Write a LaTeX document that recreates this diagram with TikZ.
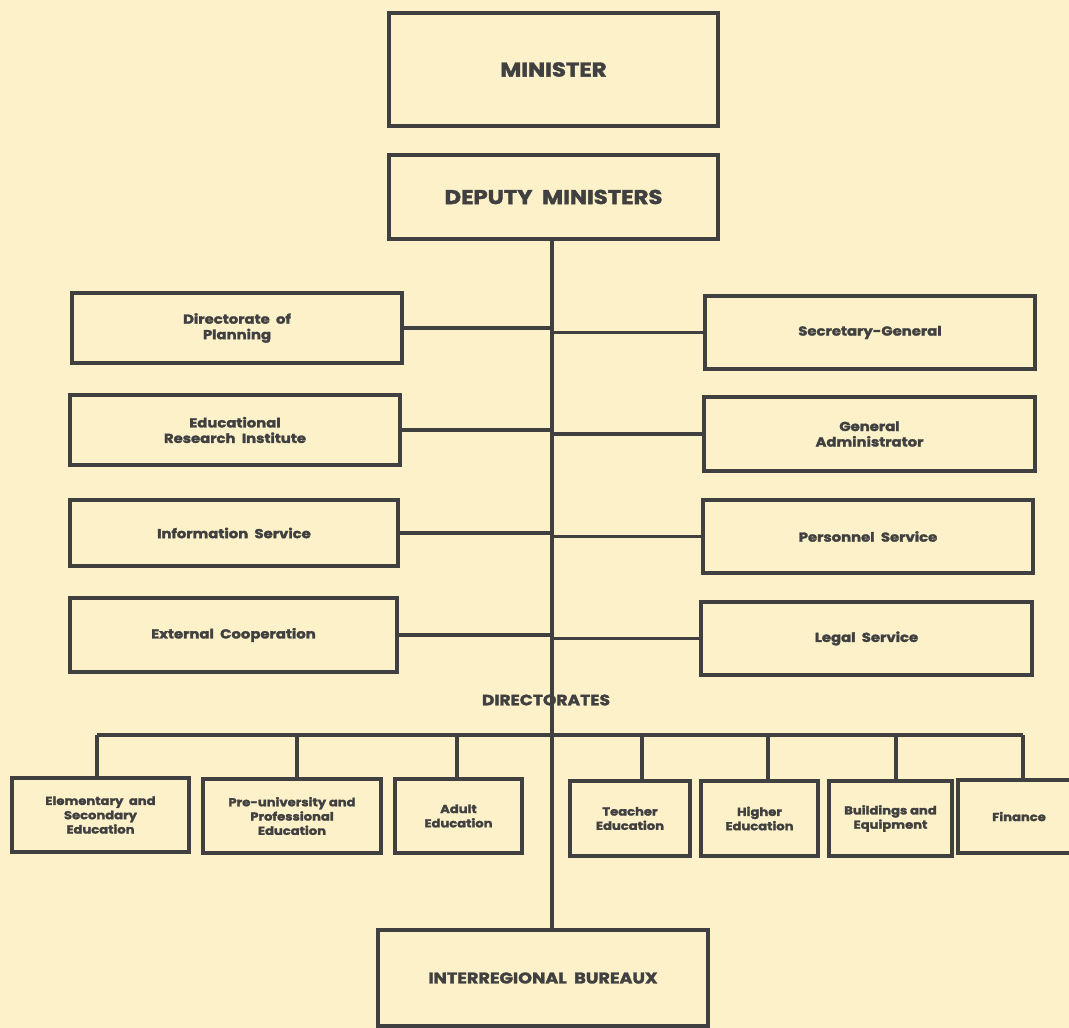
\documentclass[tikz,border=0pt]{standalone}
\usepackage{fontspec}
\setmainfont{Poppins}[FakeStretch=1.14,BoldFeatures={FakeBold=2}]
\definecolor{paper}{HTML}{FCF1C9}
\definecolor{ink}{HTML}{404040}
\begin{document}
\begin{tikzpicture}[x=1pt,y=-1pt,
  box/.style={draw=ink,line width=3.2pt,rectangle,inner sep=0pt,align=center,text=ink,font=\bfseries\fontsize{13}{15.5}\selectfont},
  bigbox/.style={box,font=\bfseries\fontsize{20}{24}\selectfont},
  smallbox/.style={box,font=\bfseries\fontsize{11.5}{14.3}\selectfont},
  wire/.style={draw=ink,line width=3.2pt},
  lbl/.style={text=ink,font=\bfseries\fontsize{15}{18}\selectfont}]
\fill[paper] (0,0) rectangle (1069,1028);
\useasboundingbox (0,0) rectangle (1069,1028);

% top
\node[bigbox,minimum width=329,minimum height=113] (min) at (553.5,69.5) {MINISTER};
\node[bigbox,minimum width=329,minimum height=84] (dep) at (553.5,197) {DEPUTY\ \ MINISTERS};

% left column
\node[box,minimum width=330,minimum height=70] (plan) at (237,328) {Directorate\ \ of\\Planning};
\node[box,minimum width=330,minimum height=70] (eri) at (235,430) {Educational\\Research\ \ Institute};
\node[box,minimum width=328,minimum height=66] (info) at (234,533) {Information\ \ Service};
\node[box,minimum width=327,minimum height=74] (ext) at (233.5,635) {External\ \ Cooperation};

% right column
\node[box,minimum width=330,minimum height=73] (sec) at (870,332.5) {Secretary-General};
\node[box,minimum width=331,minimum height=74] (gen) at (869.5,434) {General\\Administrator};
\node[box,minimum width=330,minimum height=73] (pers) at (868,536.5) {Personnel\ \ Service};
\node[box,minimum width=331,minimum height=73] (legal) at (866.5,638.5) {Legal\ \ Service};

% directorates
\node[smallbox,minimum width=177,minimum height=74] (elem) at (100.5,815) {Elementary\ \ and\\Secondary\\Education};
\node[smallbox,minimum width=178,minimum height=74] (pre) at (292,816) {Pre-university and\\Professional\\Education};
\node[smallbox,minimum width=127,minimum height=74] (adult) at (458.5,816) {Adult\\Education};
\node[smallbox,minimum width=120,minimum height=75] (teach) at (630,818.5) {Teacher\\Education};
\node[smallbox,minimum width=117,minimum height=75] (higher) at (759.5,818.5) {Higher\\Education};
\node[smallbox,minimum width=123,minimum height=75] (build) at (890.5,818.5) {Buildings and\\Equipment};
\node[smallbox,minimum width=122,minimum height=73] (fin) at (1019,816.5) {Finance};

% bottom
\node[box,font=\bfseries\fontsize{15.5}{18}\selectfont,minimum width=330,minimum height=96] (bur) at (543,978) {INTERREGIONAL\ \ BUREAUX};

% trunk
\coordinate (tx) at (552,0);
\draw[wire] (dep.south -| tx) -- (bur.north -| tx);
\node[lbl] (dirl) at (546,700) {DIRECTORATES};

% side links
\foreach \n in {plan,eri,info,ext}{\draw[wire] (\n.east) -- (\n.east -| tx);}
\foreach \n in {sec,gen,pers,legal}{\draw[wire] (\n.west) -- (\n.west -| tx);}

% bus
\coordinate (b1) at (97,735);
\coordinate (b2) at (297,735);
\coordinate (b3) at (457,735);
\coordinate (b4) at (642,735);
\coordinate (b5) at (768,735);
\coordinate (b6) at (896,735);
\coordinate (b7) at (1023,735);
\draw[wire] (b1) -- (b7);
\draw[wire] (b1) -- (b1 |- elem.north);
\draw[wire] (b2) -- (b2 |- pre.north);
\draw[wire] (b3) -- (b3 |- adult.north);
\draw[wire] (b4) -- (b4 |- teach.north);
\draw[wire] (b5) -- (b5 |- higher.north);
\draw[wire] (b6) -- (b6 |- build.north);
\draw[wire] (b7) -- (b7 |- fin.north);
\end{tikzpicture}
\end{document}
